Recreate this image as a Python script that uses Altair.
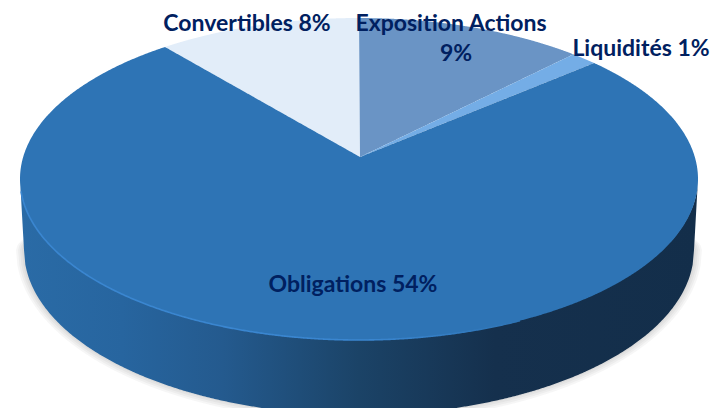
import numpy as np
import pandas as pd
import altair as alt

# Slice shares as measured on the picture (clockwise from the top)
slices = ["Exposition Actions", "Liquidités", "Obligations", "Convertibles"]
shares = [10.9, 1.3, 78.1, 9.7]
colors = ["#6a94c5", "#74ade6", "#2e74b5", "#e2edf9"]

label_texts = ["Convertibles 8%", "Exposition Actions", "9%", "Liquidités 1%", "Obligations 54%"]
label_x = [247, 451, 456, 641, 353]
label_y = [24, 24, 54, 49, 285]

# Perspective: apex, top-face ellipse, base ellipse
APEX = (360.0, 157.0)
TOP = dict(cx=359.0, cy=179.0, rx=339.0, ry=161.0)
BASE = dict(cx=359.0, cy=250.0, rx=335.0, ry=165.0)


def pt(e, theta):
    return e["cx"] + e["rx"] * np.sin(theta), e["cy"] - e["ry"] * np.cos(theta)


def slice_rows(name, t0, t1):
    ts = np.linspace(t0, t1, max(int((t1 - t0) * 120), 4))
    poly = [APEX] + [pt(TOP, t) for t in ts]
    xs = np.array([p[0] for p in poly])
    ys = np.array([p[1] for p in poly])
    grid = np.unique(np.concatenate([xs, np.linspace(xs.min(), xs.max(), 400)]))
    rows = []
    x2s, y2s = np.roll(xs, -1), np.roll(ys, -1)
    for x in grid:
        hits = []
        for xa, ya, xb, yb in zip(xs, ys, x2s, y2s):
            lo, hi = min(xa, xb), max(xa, xb)
            if lo <= x <= hi:
                if hi == lo:
                    hits += [ya, yb]
                else:
                    hits.append(ya + (yb - ya) * (x - xa) / (xb - xa))
        if hits:
            rows.append({"slice": name, "x": float(x), "ya": min(hits), "yb": max(hits)})
    return rows


rows = []
start = 0.0
for name, share in zip(slices, shares):
    end = start + share / 100 * 2 * np.pi
    rows += slice_rows(name, start, end)
    start = end
top_df = pd.DataFrame(rows).sort_values(["slice", "x"])


def half_low(e, x):
    u = np.clip((x - e["cx"]) / e["rx"], -1, 1)
    return e["cy"] + e["ry"] * np.sqrt(1 - u ** 2)


# Side wall
sx = np.concatenate([
    np.linspace(TOP["cx"] - TOP["rx"], BASE["cx"] - BASE["rx"], 12),
    np.linspace(BASE["cx"] - BASE["rx"], BASE["cx"] + BASE["rx"], 500),
    np.linspace(BASE["cx"] + BASE["rx"], TOP["cx"] + TOP["rx"], 12),
])
sx = np.unique(sx)
low = half_low(BASE, sx)
left_e = BASE["cx"] - BASE["rx"]
right_e = BASE["cx"] + BASE["rx"]
x_l0, x_r0 = TOP["cx"] - TOP["rx"], TOP["cx"] + TOP["rx"]
low = np.where(sx < left_e, TOP["cy"] + (sx - x_l0) / (left_e - x_l0) * (BASE["cy"] - TOP["cy"]), low)
low = np.where(sx > right_e, TOP["cy"] + (x_r0 - sx) / (x_r0 - right_e) * (BASE["cy"] - TOP["cy"]), low)
side_df = pd.DataFrame({"x": sx, "ya": half_low(TOP, sx) - 1, "yb": low})

# Soft shadow
shadow_rows = []
for k in [2, 4, 6, 8]:
    e = dict(BASE, rx=BASE["rx"] + k, ry=BASE["ry"] + k - 1)
    xx = np.linspace(e["cx"] - e["rx"], e["cx"] + e["rx"], 500)
    u = (xx - e["cx"]) / e["rx"]
    shadow_rows += [{"k": k, "x": a, "ya": e["cy"] - e["ry"] * s * 0.3, "yb": e["cy"] + e["ry"] * s}
                    for a, s in zip(xx, np.sqrt(np.clip(1 - u ** 2, 0, 1)))]
shadow_df = pd.DataFrame(shadow_rows)

# Bevel highlight on the lower-left rim
hx = np.linspace(x_l0 + 1, 520, 400)
rim_df = pd.DataFrame({"x": hx, "y": half_low(TOP, hx)})

label_df = pd.DataFrame({"t": label_texts, "x": label_x, "y": label_y})

xscale = alt.Scale(domain=[8, 713], range=[0, 705], nice=False, zero=False)
yscale = alt.Scale(domain=[8, 408], range=[0, 400], nice=False, zero=False)
X = alt.X("x:Q", scale=xscale, axis=None)
Y = alt.Y("y:Q", scale=yscale, axis=None)
Ya = alt.Y("ya:Q", scale=yscale, axis=None, stack=None)
Yb = alt.Y2("yb")

shadow = alt.Chart(shadow_df).mark_area(color="#000000", opacity=0.035, orient="vertical").encode(
    x=X, y=Ya, y2=Yb, detail="k:N")

side = alt.Chart(side_df).mark_area(
    orient="vertical",
    color=alt.Gradient(
        gradient="linear", x1=0, x2=1, y1=0, y2=0,
        stops=[
            alt.GradientStop(offset=0.0, color="#2a6ba6"),
            alt.GradientStop(offset=0.15, color="#27659f"),
            alt.GradientStop(offset=0.30, color="#245a8e"),
            alt.GradientStop(offset=0.50, color="#1b4367"),
            alt.GradientStop(offset=0.70, color="#15304d"),
            alt.GradientStop(offset=1.0, color="#132e4a"),
        ],
    )
).encode(x=X, y=Ya, y2=Yb)

top = alt.Chart(top_df).mark_area(interpolate="linear", orient="vertical").encode(
    x=X, y=Ya, y2=Yb,
    color=alt.Color("slice:N", scale=alt.Scale(domain=slices, range=colors), legend=None),
)

rim = alt.Chart(rim_df).mark_line(
    strokeWidth=1.6,
    stroke=alt.Gradient(
        gradient="linear", x1=0, x2=1, y1=0, y2=0,
        stops=[
            alt.GradientStop(offset=0.0, color="#3a86d0"),
            alt.GradientStop(offset=0.7, color="#3a86d0"),
            alt.GradientStop(offset=1.0, color="#2e74b5"),
        ],
    ),
).encode(x=X, y=Y, order="x:Q")

labels = alt.Chart(label_df).mark_text(
    font="Lato", fontWeight="bold", fontSize=23, color="#002060", align="center", baseline="middle"
).encode(x=X, y=Y, text="t:N")

chart = (
    alt.layer(shadow, side, top, rim, labels)
    .properties(width=705, height=400, padding=0, autosize=alt.AutoSizeParams(type="none"))
    .configure_view(stroke=None)
)
chart.save("out.html", embed_options={"renderer": "svg", "actions": False})
